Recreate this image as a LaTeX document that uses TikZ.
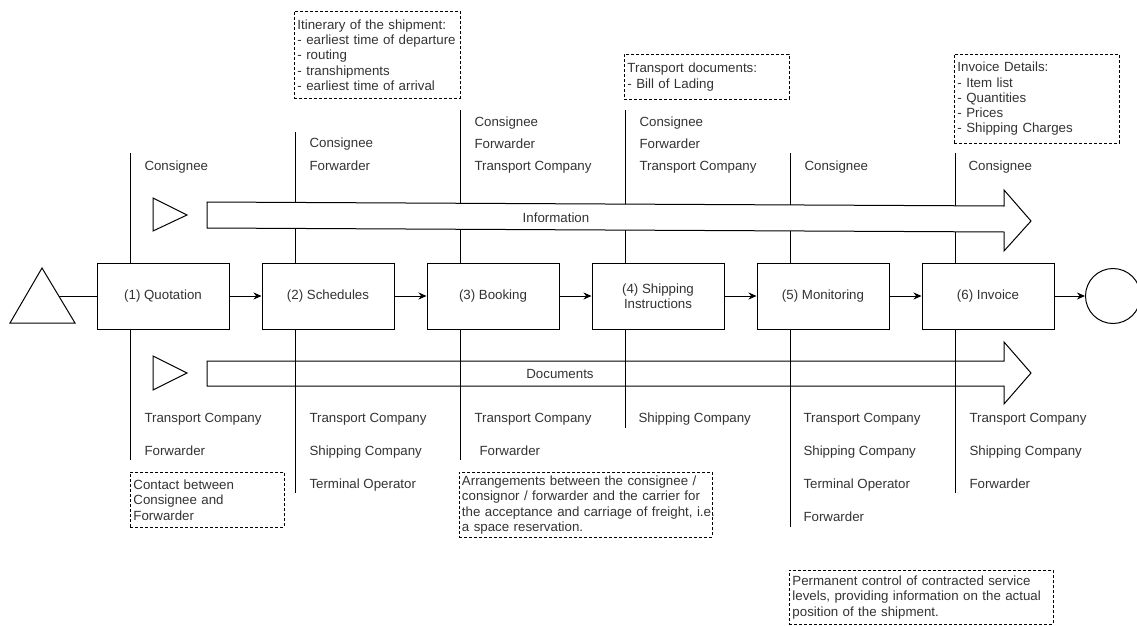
\documentclass[tikz,border=0pt]{standalone}
\usepackage{fontspec}
\setmainfont{Liberation Sans}
\usetikzlibrary{arrows.meta}
\begin{document}
\begin{tikzpicture}[x=1pt,y=-1pt,line width=1pt,
  every node/.style={font=\fontsize{13.3}{15.3}\selectfont, text=black!80},
  proc/.style={draw, fill=white, minimum width=132pt, minimum height=66pt, inner sep=0pt, align=center},
  lbl/.style={anchor=base west, inner sep=0pt},
  note/.style={draw, dashed, dash pattern=on 3pt off 2pt, line width=0.9pt, anchor=north west, align=left, inner xsep=3pt, inner ysep=0pt},
  flow/.style={-{Stealth[length=8pt,width=7pt]}}]
\useasboundingbox (0,0) rectangle (1137,626);

% vertical stakeholder lines
\coordinate (t1) at (130,153); \coordinate (u1) at (130,460);
\coordinate (t2) at (295,132); \coordinate (u2) at (295,493);
\coordinate (t3) at (460,110); \coordinate (u3) at (460,460);
\coordinate (t4) at (625,110); \coordinate (u4) at (625,428);
\coordinate (t5) at (790,153); \coordinate (u5) at (790,527);
\coordinate (t6) at (955,153); \coordinate (u6) at (955,493);

% process boxes
\node[proc] (b1) at (163,296) {(1) Quotation};
\node[proc] (b2) at (328,296) {(2) Schedules};
\node[proc] (b3) at (493,296) {(3) Booking};
\node[proc] (b4) at (658,296) {(4) Shipping\\Instructions};
\node[proc] (b5) at (823,296) {(5) Monitoring};
\node[proc] (b6) at (988,296) {(6) Invoice};

\foreach \i in {1,...,6}{
  \draw (t\i) -- (t\i |- b\i.north);
  \draw (u\i) -- (u\i |- b\i.south);
}

% start and end events
\draw (10,323) -- (75,323) -- (42,268) -- cycle;
\coordinate (s) at (59,296);
\node[draw, circle, minimum size=55pt, inner sep=0pt] (end) at (1113,296) {};

\draw (s) -- (b1);
\draw[flow] (b1) -- (b2);
\draw[flow] (b2) -- (b3);
\draw[flow] (b3) -- (b4);
\draw[flow] (b4) -- (b5);
\draw[flow] (b5) -- (b6);
\draw[flow] (b6) -- (end);

% documents arrow (lines visible through)
\draw (207,361) -- (1004,361) -- (1004,342) -- (1031,373) -- (1004,404) -- (1004,386) -- (207,386) -- cycle;
\draw (153,356) -- (187,373) -- (153,390) -- cycle;
\node (docs) at (560,374) {Documents};

% information arrow (covers lines)
\draw[fill=white] (207,202) -- (1004,206) -- (1004,190) -- (1031,221) -- (1004,251) -- (1004,232) -- (207,228) -- cycle;
\draw (153,198) -- (187,215) -- (153,231) -- cycle;
\node (info) at (556,218) {Information};

% labels above
\node[lbl] (a1a) at (144,170.7) {Consignee};
\node[lbl] (a2a) at (309,147.7) {Consignee};
\node[lbl] (a2b) at (309,170.7) {Forwarder};
\node[lbl] (a3a) at (474,126.7) {Consignee};
\node[lbl] (a3b) at (474,148.7) {Forwarder};
\node[lbl] (a3c) at (474,170.7) {Transport Company};
\node[lbl] (a4a) at (639,126.7) {Consignee};
\node[lbl] (a4b) at (639,148.7) {Forwarder};
\node[lbl] (a4c) at (639,170.7) {Transport Company};
\node[lbl] (a5a) at (804,170.7) {Consignee};
\node[lbl] (a6a) at (968,170.7) {Consignee};

% labels below
\node[lbl] (c1a) at (144,422.7) {Transport Company};
\node[lbl] (c1b) at (144,455.7) {Forwarder};
\node[lbl] (c2a) at (309,422.7) {Transport Company};
\node[lbl] (c2b) at (309,455.7) {Shipping Company};
\node[lbl] (c2c) at (309,488.7) {Terminal Operator};
\node[lbl] (c3a) at (474,422.7) {Transport Company};
\node[lbl] (c3b) at (479,455.7) {Forwarder};
\node[lbl] (c4a) at (638,422.7) {Shipping Company};
\node[lbl] (c5a) at (803,422.7) {Transport Company};
\node[lbl] (c5b) at (803,455.7) {Shipping Company};
\node[lbl] (c5c) at (803,488.7) {Terminal Operator};
\node[lbl] (c5d) at (803,521.7) {Forwarder};
\node[lbl] (c6a) at (969,422.7) {Transport Company};
\node[lbl] (c6b) at (969,455.7) {Shipping Company};
\node[lbl] (c6c) at (969,488.7) {Forwarder};

% notes
\node[note, minimum height=55pt, text width=148pt] (n1) at (130,472) {Contact between\\Consignee and\\Forwarder};
\node[note, minimum height=87pt, text width=160pt] (n2) at (294,11) {Itinerary of the shipment:\\- earliest time of departure\\- routing\\- transhipments\\- earliest time of arrival};
\node[note, minimum height=45pt, text width=159pt] (n3) at (624,54) {Transport documents:\\- Bill of Lading};
\node[note, minimum height=89pt, text width=159pt] (n4) at (954,54) {Invoice Details:\\- Item list\\- Quantities\\- Prices\\- Shipping Charges};
\node[note, minimum height=65pt, text width=248pt, inner xsep=2.5pt] (n5) at (459,472) {\mbox{Arrangements between the consignee /}\\\mbox{consignor / forwarder and the carrier for}\\\mbox{the acceptance and carriage of freight, i.e.}\\\mbox{a space reservation.}};
\node[note, minimum height=54pt, text width=258pt] (n6) at (789,570) {\mbox{Permanent control of contracted service}\\\mbox{levels, providing information on the actual}\\\mbox{position of the shipment.}};
\end{tikzpicture}
\end{document}
